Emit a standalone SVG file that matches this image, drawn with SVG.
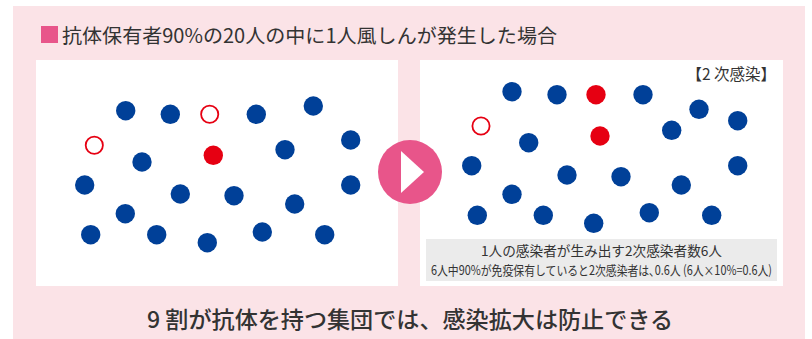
<svg xmlns="http://www.w3.org/2000/svg" width="812" height="339" viewBox="0 0 812 339">
<defs>
<style>
.t{font-family:"Noto Sans CJK JP","Noto Sans",sans-serif;fill:#333}
.b{fill:#004098}
.r{fill:#e60012}
.o{fill:#fff;stroke:#e60012;stroke-width:1.8}
.panel{fill:#fff}
</style>
</defs>
<rect x="0" y="0" width="812" height="339" fill="#fff"/>
<rect id="bg" x="13" y="6" width="792" height="333" fill="#fbe3e7"/>
<g id="title">
<rect x="41" y="26" width="17" height="17" fill="#e8558a"/>
<text class="t" x="62" y="43" font-size="19.5" textLength="495" lengthAdjust="spacingAndGlyphs">抗体保有者90%の20人の中に1人風しんが発生した場合</text>
</g>
<g id="left-panel">
<rect class="panel" x="36" y="60" width="362" height="226"/>
<circle class="b" cx="125.7" cy="110.7" r="9.7"/>
<circle class="b" cx="170.3" cy="114.3" r="9.7"/>
<circle class="o" cx="209.7" cy="114.3" r="8.6"/>
<circle class="b" cx="256.3" cy="114.3" r="9.7"/>
<circle class="b" cx="313.3" cy="106" r="9.7"/>
<circle class="o" cx="94.3" cy="145.3" r="8.6"/>
<circle class="b" cx="142" cy="162" r="9.7"/>
<circle class="r" cx="213.3" cy="155.3" r="9.7"/>
<circle class="b" cx="285" cy="149.7" r="9.7"/>
<circle class="b" cx="350.7" cy="140" r="9.7"/>
<circle class="b" cx="84.7" cy="185" r="9.7"/>
<circle class="b" cx="180.3" cy="194" r="9.7"/>
<circle class="b" cx="234" cy="195.7" r="9.7"/>
<circle class="b" cx="294.7" cy="204" r="9.7"/>
<circle class="b" cx="350.7" cy="185" r="9.7"/>
<circle class="b" cx="125.3" cy="213.7" r="9.7"/>
<circle class="b" cx="90.7" cy="234.7" r="9.7"/>
<circle class="b" cx="156.7" cy="234.7" r="9.7"/>
<circle class="b" cx="207.3" cy="242.7" r="9.7"/>
<circle class="b" cx="262.3" cy="232" r="9.7"/>
<circle class="b" cx="324.7" cy="234.7" r="9.7"/>
</g>
<g id="right-panel">
<rect class="panel" x="420" y="60" width="363" height="226"/>
<text class="t" x="776" y="80" font-size="15.5" text-anchor="end" fill="#222">【2 次感染】</text>
<circle class="b" cx="512" cy="91.7" r="9.7"/>
<circle class="b" cx="557" cy="94.7" r="9.7"/>
<circle class="r" cx="596" cy="94.7" r="9.7"/>
<circle class="b" cx="643" cy="94.7" r="9.7"/>
<circle class="b" cx="699" cy="109.3" r="9.7"/>
<circle class="b" cx="737.7" cy="120.7" r="9.7"/>
<circle class="o" cx="481" cy="126" r="8.6"/>
<circle class="b" cx="528.7" cy="142.7" r="9.7"/>
<circle class="r" cx="600" cy="136" r="9.7"/>
<circle class="b" cx="671.7" cy="130.3" r="9.7"/>
<circle class="b" cx="471.7" cy="165.7" r="9.7"/>
<circle class="b" cx="567" cy="175" r="9.7"/>
<circle class="b" cx="621" cy="176.7" r="9.7"/>
<circle class="b" cx="681.3" cy="185" r="9.7"/>
<circle class="b" cx="737.7" cy="165.7" r="9.7"/>
<circle class="b" cx="512" cy="194.3" r="9.7"/>
<circle class="b" cx="477.3" cy="215.3" r="9.7"/>
<circle class="b" cx="543.3" cy="215.3" r="9.7"/>
<circle class="b" cx="593.7" cy="223.3" r="9.7"/>
<circle class="b" cx="649.3" cy="212.7" r="9.7"/>
<circle class="b" cx="711.7" cy="215.3" r="9.7"/>
<rect x="426" y="239" width="351" height="42" fill="#ebebeb"/>
<text class="t" x="601.5" y="256" font-size="13.5" text-anchor="middle" fill="#444" textLength="241" lengthAdjust="spacingAndGlyphs">1人の感染者が生み出す2次感染者数6人</text>
<text class="t" x="431" y="275" font-size="13" fill="#444" textLength="341" lengthAdjust="spacingAndGlyphs">6人中90%が免疫保有していると2次感染者は､0.6人 (6人×10%=0.6人)</text>
</g>
<g id="connectors">
<g id="arrow">
<circle cx="410" cy="172" r="32" fill="#e8558a"/>
<polygon points="401,151 424,172 401,193" fill="#fff"/>
</g>
</g>
<g id="conclusion">
<text class="t" x="147" y="328" font-size="22.5" font-weight="500" fill="#222" textLength="526" lengthAdjust="spacingAndGlyphs">9 割が抗体を持つ集団では、感染拡大は防止できる</text>
</g>
</svg>
